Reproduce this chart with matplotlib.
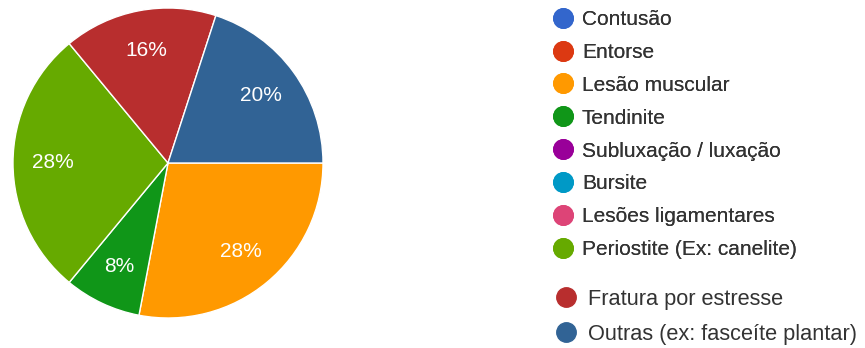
import matplotlib
matplotlib.use("Agg")
import matplotlib.pyplot as plt
from matplotlib.lines import Line2D

plt.rcParams['font.family'] = ['Liberation Sans', 'DejaVu Sans']

categories = ["Contusão", "Entorse", "Lesão muscular", "Tendinite",
              "Subluxação / luxação", "Bursite", "Lesões ligamentares",
              "Periostite (Ex: canelite)", "Fratura por estresse",
              "Outras (ex: fasceíte plantar)"]
values = [0, 0, 28, 8, 0, 0, 0, 28, 16, 20]
colors = ["#3366CC", "#DC3912", "#FF9900", "#109618", "#990099",
          "#0099C6", "#DD4477", "#66AA00", "#B82E2E", "#316395"]

W, H = 865, 348
fig = plt.figure(figsize=(W / 100, H / 100), dpi=100)

cx, cy, r = 168, 163, 155
ax = fig.add_axes([(cx - r) / W, (H - cy - r) / H, 2 * r / W, 2 * r / H])

nz = [i for i, v in enumerate(values) if v > 0]
pv = [values[i] for i in nz]
pc = [colors[i] for i in nz]

wedges, texts, autotexts = ax.pie(
    pv, colors=pc, startangle=0, counterclock=False, radius=1,
    autopct=lambda p: f"{p:.0f}%", pctdistance=0.74,
    wedgeprops=dict(edgecolor="white", linewidth=1.0),
    textprops=dict(color="white", fontsize=15))
ax.set_xlim(-1, 1)
ax.set_ylim(-1, 1)
ax.set_aspect("equal")
ax.axis("off")

def handles(idx, ms):
    return [Line2D([], [], marker="o", linestyle="", markersize=ms,
                   markerfacecolor=colors[i], markeredgecolor=colors[i])
            for i in idx]

g1 = list(range(8))
g2 = [8, 9]

leg1 = fig.legend(handles(g1, 14), [categories[i] for i in g1],
                  loc="upper left", bbox_to_anchor=(552.6 / W, (H - 10) / H),
                  frameon=False, fontsize=15, handlelength=1.0,
                  handletextpad=0.41, labelspacing=0.667, borderpad=0,
                  borderaxespad=0, labelcolor="#333333")
fig.add_artist(leg1)
leg2 = fig.legend(handles(g2, 14), [categories[i] for i in g2],
                  loc="upper left", bbox_to_anchor=(554.6 / W, (H - 289) / H),
                  frameon=False, fontsize=15.7, handlelength=1.0,
                  handletextpad=0.53, labelspacing=0.63, borderpad=0,
                  borderaxespad=0, labelcolor="#333333")

fig.savefig("out.png", dpi=100, facecolor="white")
